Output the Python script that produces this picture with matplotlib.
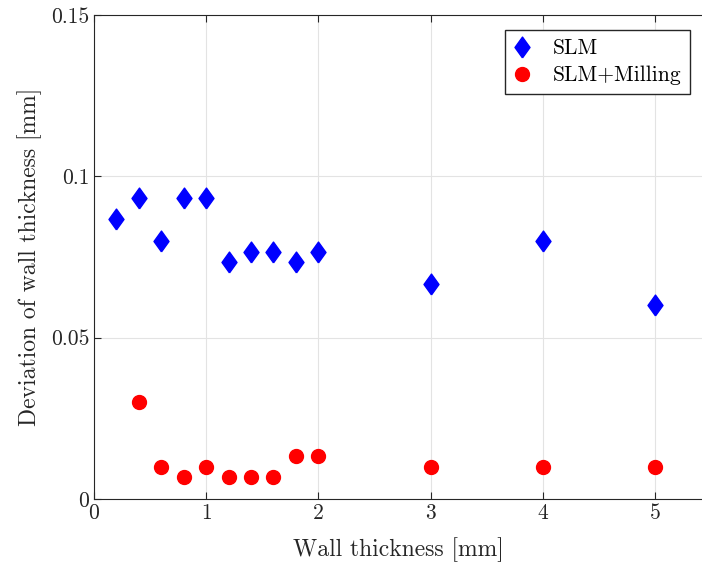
import matplotlib
matplotlib.use("Agg")
import matplotlib.pyplot as plt

plt.rcParams['font.family'] = ['cmr10', 'DejaVu Serif']
plt.rcParams['axes.formatter.use_mathtext'] = True
plt.rcParams['mathtext.fontset'] = 'cm'

slm_x = [0.2, 0.4, 0.6, 0.8, 1.0, 1.2, 1.4, 1.6, 1.8, 2.0, 3, 4, 5]
slm_y = [0.0867, 0.0933, 0.08, 0.0933, 0.0933, 0.0733, 0.0767, 0.0767, 0.0733, 0.0767, 0.0667, 0.08, 0.06]

mill_x = [0.4, 0.6, 0.8, 1.0, 1.2, 1.4, 1.6, 1.8, 2.0, 3, 4, 5]
mill_y = [0.03, 0.01, 0.0067, 0.01, 0.0067, 0.0067, 0.0067, 0.0133, 0.0133, 0.01, 0.01, 0.01]

x_ticks = [0, 1, 2, 3, 4, 5]
y_ticks = [0, 0.05, 0.1, 0.15]
y_labels = ['0', '0.05', '0.1', '0.15']

# MATLAB-style diamond, a bit wider than matplotlib's 'd'
diamond = [(0, -1), (0.72, 0), (0, 1), (-0.72, 0), (0, -1)]

fig = plt.figure(figsize=(7.02, 5.66), dpi=100)
ax = fig.add_axes([94/702, 67/566, 608/702, 484/566])

ax.plot(slm_x, slm_y, linestyle='none', marker=diamond, color='blue', markersize=15, label='SLM')
ax.plot(mill_x, mill_y, 'o', color='red', markersize=10, label='SLM+Milling')

ax.set_xlim(0, 5.42)
ax.set_ylim(0, 0.15)
ax.set_xticks(x_ticks)
ax.set_xticklabels([str(t) for t in x_ticks])
ax.set_yticks(y_ticks)
ax.set_yticklabels(y_labels)
ax.tick_params(direction='in', labelsize=15.5, length=5, colors='#262626', top=True)
ax.grid(True, color='#e3e3e3', linewidth=0.8)
ax.set_axisbelow(True)
for s in ax.spines.values():
    s.set_color('#262626')
ax.spines['right'].set_visible(False)

ax.set_xlabel('Wall thickness [mm]', fontsize=17, color='#262626', labelpad=10)
ax.set_ylabel('Deviation of wall thickness [mm]', fontsize=17, color='#262626', labelpad=6)

ax.legend(loc='upper right', bbox_to_anchor=(0.980, 0.969), fontsize=15.5, fancybox=False,
          edgecolor='#262626', framealpha=1, borderpad=0.4, borderaxespad=0,
          handlelength=0.8, handletextpad=1.0, labelspacing=0.35)

fig.savefig('out.png', dpi=100)
